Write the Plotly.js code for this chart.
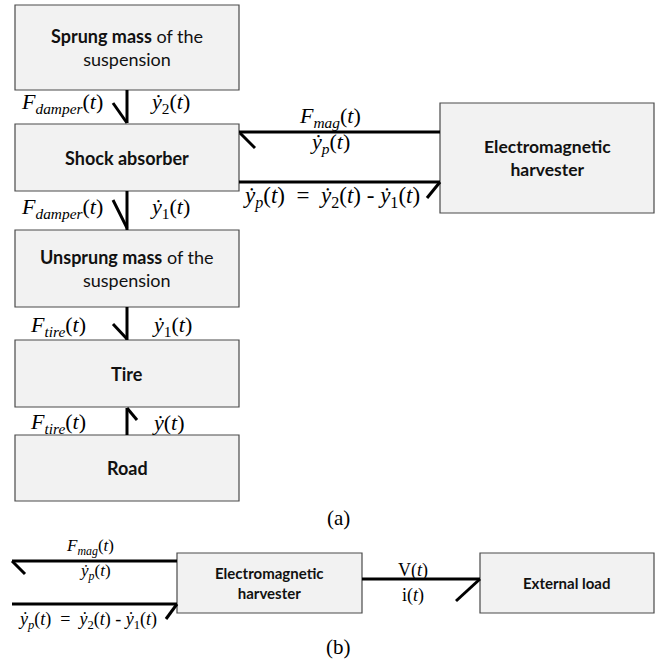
<!DOCTYPE html>
<html>
<head>
<meta charset="utf-8">
<script src="https://cdn.plot.ly/plotly-3.0.1.min.js"></script>
<style>html,body{margin:0;padding:0;background:#fff;}#chart{width:655px;height:669px;}</style>
</head>
<body>
<div id="chart"></div>
<script>
// ---- Blocks of the diagram ----
const boxLabels = [
  "<b>Sprung mass</b> of the<br>suspension",
  "<b>Shock absorber</b>",
  "<b>Unsprung mass</b> of the<br>suspension",
  "<b>Tire</b>",
  "<b>Road</b>",
  "<b>Electromagnetic<br>harvester</b>",
  "<b>Electromagnetic<br>harvester</b>",
  "<b>External load</b>"
];
const boxX0 = [15, 15, 15, 15, 15, 440, 177, 480];
const boxX1 = [239, 239, 239, 239, 239, 654, 362, 654];
const boxY0 = [5, 124, 230, 340, 435, 103, 553, 553];
const boxY1 = [90, 191, 307, 407, 501, 213, 613, 613];
const boxFontSize = [18, 18, 18, 18, 18, 17.5, 15, 15];

// ---- Connectors (polylines, null separates segments) ----
const connX = [
  127,127,null, 113,127,null,
  127,127,null, 113,127,null,
  127,127,null, 113,127,null,
  127,127,null, 127,137,null,
  239,440,null, 240,255,null,
  239,440,null, 440,427,null,
  12,177,null, 12,25,null,
  12,177,null, 177,166,null,
  362,480,null, 480,456
];
const connY = [
  90,123,null, 103,123,null,
  191,230,null, 200,228,null,
  307,340,null, 324,339,null,
  408,435,null, 408,420,null,
  132,132,null, 133,148,null,
  182,182,null, 182,198,null,
  561,561,null, 561,574,null,
  604,604,null, 604,619,null,
  579,579,null, 579,601
];

// ---- Signal labels ----
const sigText = [
  "<i>F<sub>damper</sub></i>(<i>t</i>)", "<i>ẏ</i><sub>2</sub>(<i>t</i>)",
  "<i>F<sub>damper</sub></i>(<i>t</i>)", "<i>ẏ</i><sub>1</sub>(<i>t</i>)",
  "<i>F<sub>tire</sub></i>(<i>t</i>)", "<i>ẏ</i><sub>1</sub>(<i>t</i>)",
  "<i>F<sub>tire</sub></i>(<i>t</i>)", "<i>ẏ</i>(<i>t</i>)",
  "<i>F<sub>mag</sub></i>(<i>t</i>)", "<i>ẏ<sub>p</sub></i>(<i>t</i>)",
  "<i>ẏ<sub>p</sub></i>(<i>t</i>)  =  <i>ẏ</i><sub>2</sub>(<i>t</i>) - <i>ẏ</i><sub>1</sub>(<i>t</i>)",
  "<i>F<sub>mag</sub></i>(<i>t</i>)", "<i>ẏ<sub>p</sub></i>(<i>t</i>)",
  "<i>ẏ<sub>p</sub></i>(<i>t</i>)  =  <i>ẏ</i><sub>2</sub>(<i>t</i>) - <i>ẏ</i><sub>1</sub>(<i>t</i>)",
  "V(<i>t</i>)", "i(<i>t</i>)",
  "(a)", "(b)"
];
const sigX = [62, 170, 62, 170, 58, 172, 58, 168, 330, 330, 331, 90, 95, 87, 413, 413, 338, 338];
const sigY = [103, 103, 208, 208, 326, 326, 423, 422, 117, 143, 197, 547, 572, 620, 570, 595, 518, 647];
const sigSize = [22,22,22,22,22,22,22,22,22,22,23,17,17,18,18,18,21,21];

const shapes = boxLabels.map((_, i) => ({
  type: "rect", xref: "x", yref: "y",
  x0: boxX0[i], x1: boxX1[i], y0: boxY0[i], y1: boxY1[i],
  fillcolor: "#f2f2f2", line: {color: "#4a4a4a", width: 1.2}, layer: "below"
}));

const annotations = [];
boxLabels.forEach((t, i) => {
  annotations.push({
    xref: "x", yref: "y", x: (boxX0[i] + boxX1[i]) / 2, y: (boxY0[i] + boxY1[i]) / 2,
    text: t, showarrow: false, xanchor: "center", yanchor: "middle",
    font: {family: "Lato, 'Open Sans', sans-serif", size: boxFontSize[i], color: "#111"}
  });
});
sigText.forEach((t, i) => {
  annotations.push({
    xref: "x", yref: "y", x: sigX[i], y: sigY[i], text: t, showarrow: false,
    xanchor: "center", yanchor: "middle",
    font: {family: "'Liberation Serif', 'DejaVu Serif', serif", size: sigSize[i], color: "#000"}
  });
});

const traces = [{
  type: "scatter", mode: "lines", x: connX, y: connY,
  line: {color: "#000", width: 3}, connectgaps: false, hoverinfo: "skip"
}];

const layout = {
  width: 655, height: 669,
  margin: {l: 0, r: 0, t: 0, b: 0},
  paper_bgcolor: "#fff", plot_bgcolor: "#fff",
  showlegend: false,
  xaxis: {range: [0, 655], visible: false, fixedrange: true},
  yaxis: {range: [669, 0], visible: false, fixedrange: true},
  shapes: shapes,
  annotations: annotations
};

Plotly.newPlot("chart", traces, layout, {staticPlot: true, displayModeBar: false});
</script>
</body>
</html>
